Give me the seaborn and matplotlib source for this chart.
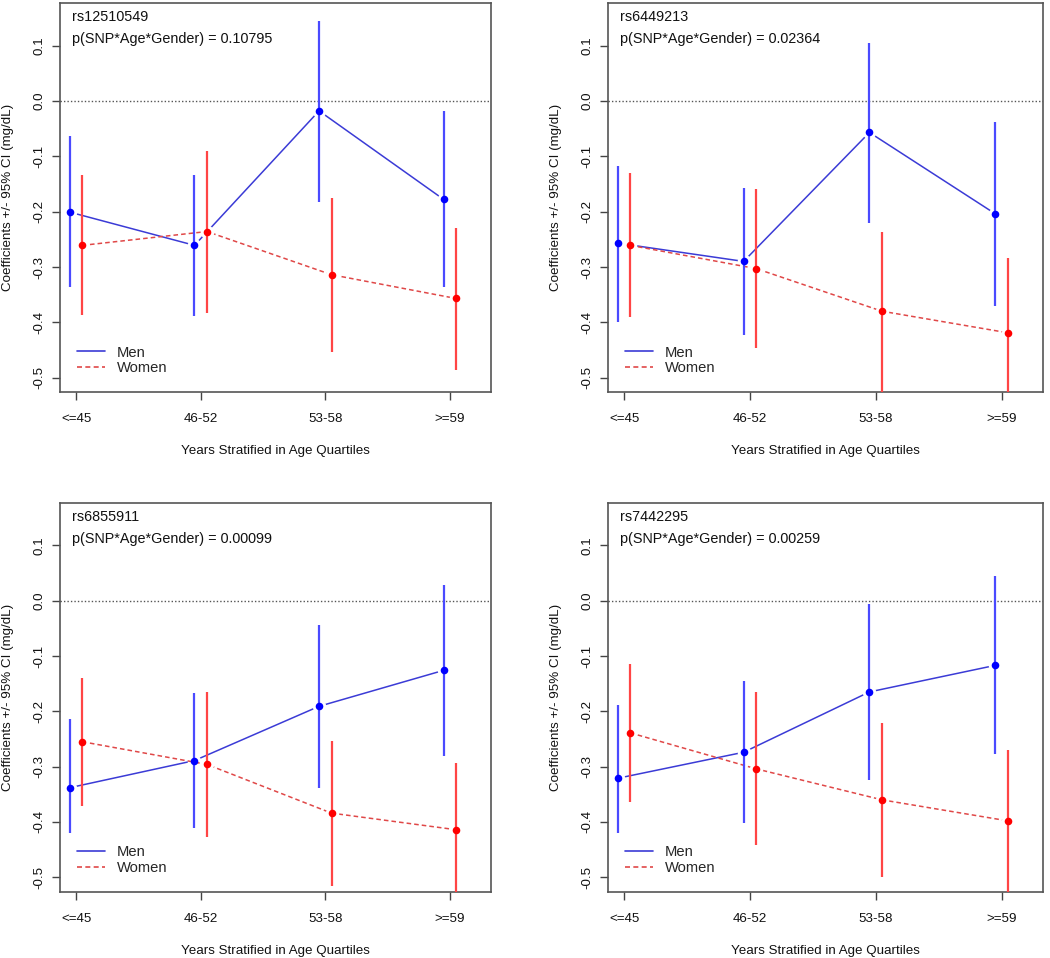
import numpy as np
import pandas as pd
import matplotlib
matplotlib.use("Agg")
import matplotlib.pyplot as plt
from matplotlib.lines import Line2D
import seaborn as sns

# age quartile categories
quartiles = ["<=45", "46-52", "53-58", ">=59"]

snps = ["rs12510549", "rs6449213", "rs6855911", "rs7442295"]
pvals = ["0.10795", "0.02364", "0.00099", "0.00259"]

# coefficients and 95% CI
men_est = [[-0.201, -0.261, -0.018, -0.178],
           [-0.257, -0.290, -0.057, -0.204],
           [-0.338, -0.289, -0.191, -0.126],
           [-0.321, -0.274, -0.165, -0.117]]
men_lo = [[-0.337, -0.389, -0.182, -0.337],
          [-0.399, -0.423, -0.220, -0.370],
          [-0.420, -0.411, -0.338, -0.281],
          [-0.420, -0.402, -0.325, -0.277]]
men_hi = [[-0.063, -0.133, 0.145, -0.019],
          [-0.117, -0.158, 0.105, -0.038],
          [-0.214, -0.167, -0.044, 0.028],
          [-0.188, -0.146, -0.006, 0.044]]

women_est = [[-0.261, -0.236, -0.314, -0.357],
             [-0.261, -0.303, -0.380, -0.419],
             [-0.255, -0.296, -0.384, -0.414],
             [-0.239, -0.304, -0.360, -0.398]]
women_lo = [[-0.387, -0.384, -0.453, -0.486],
            [-0.391, -0.447, -0.530, -0.554],
            [-0.372, -0.428, -0.515, -0.535],
            [-0.364, -0.441, -0.500, -0.530]]
women_hi = [[-0.134, -0.090, -0.175, -0.229],
            [-0.131, -0.159, -0.236, -0.284],
            [-0.139, -0.165, -0.253, -0.293],
            [-0.115, -0.166, -0.221, -0.270]]

sns.set_style("ticks")
plt.rcParams["font.family"] = ["Liberation Sans", "DejaVu Sans"]

line_col = {"Men": "#3b3bd6", "Women": "#e04848"}
ci_col = {"Men": "#4a4aff", "Women": "#ff4545"}
pt_col = {"Men": "#0000ff", "Women": "#ff0000"}
offset = {"Men": -0.05, "Women": 0.05}

fig = plt.figure(figsize=(10.5, 9.58), dpi=100)
positions = [(0.0571, 0.5908, 0.4105, 0.4061),
             (0.5788, 0.5908, 0.4146, 0.4061),
             (0.0571, 0.0692, 0.4105, 0.4061),
             (0.5788, 0.0692, 0.4146, 0.4061)]

for i in range(4):
    ax = fig.add_axes(positions[i])
    rows = []
    for sex, est, lo, hi in [("Men", men_est[i], men_lo[i], men_hi[i]),
                             ("Women", women_est[i], women_lo[i], women_hi[i])]:
        for j, q in enumerate(quartiles):
            rows.append({"sex": sex, "quartile": q, "pos": j + 1 + offset[sex],
                         "est": est[j], "lo": lo[j], "hi": hi[j]})
    df = pd.DataFrame(rows)

    ax.axhline(0, color="#555555", lw=1.0, ls=(0, (1, 1.5)), zorder=0.5)

    z = 1
    for sex in ["Men", "Women"]:
        d = df[df["sex"] == sex]
        sns.lineplot(data=d, x="pos", y="est", ax=ax, color=line_col[sex],
                     lw=1.1, linestyle="-" if sex == "Men" else (0, (3, 2)),
                     zorder=z, legend=False)
        # white halo gives the R type="b" gap around points
        sns.scatterplot(data=d, x="pos", y="est", ax=ax, color="white",
                        s=95, linewidth=0, zorder=z + 0.5, legend=False)
        z += 1
    for sex in ["Men", "Women"]:
        d = df[df["sex"] == sex]
        ax.vlines(d["pos"], d["lo"], d["hi"], color=ci_col[sex], lw=1.6, zorder=4)
        sns.scatterplot(data=d, x="pos", y="est", ax=ax, color=pt_col[sex],
                        s=30, linewidth=0, zorder=5, legend=False)

    ax.set_xlim(0.87, 4.33)
    ax.set_ylim(-0.526, 0.177)
    ax.set_xticks(range(1, 5))
    ax.set_xticklabels(quartiles, fontsize=9.6)
    ax.set_yticks([0.1, 0.0, -0.1, -0.2, -0.3, -0.4, -0.5])
    ax.set_yticklabels(["0.1", "0.0", "-0.1", "-0.2", "-0.3", "-0.4", "-0.5"],
                       fontsize=9.6, rotation=90, va="center")
    ax.tick_params(axis="x", direction="out", length=6, width=1, color="#444444",
                   pad=9, labelcolor="#111111", bottom=True)
    ax.tick_params(axis="y", direction="out", length=5.5, width=1, color="#444444",
                   pad=5, labelcolor="#111111", left=True)
    for sp in ax.spines.values():
        sp.set_visible(True)
        sp.set_color("#555555")
        sp.set_linewidth(1.2)

    ax.set_xlabel("Years Stratified in Age Quartiles", fontsize=9.6, color="#111111")
    ax.set_ylabel("Coefficients +/- 95% CI (mg/dL)", fontsize=9.6, color="#111111")
    ax.xaxis.set_label_coords(0.5, -0.152)
    ax.yaxis.set_label_coords(-0.12, 0.5)
    ax.xaxis.label.set_va("center")
    ax.yaxis.label.set_va("center")

    ax.text(0.028, 0.963, snps[i], transform=ax.transAxes, fontsize=10.4,
            va="center", ha="left", color="#111111")
    ax.text(0.028, 0.907, "p(SNP*Age*Gender) = " + pvals[i], transform=ax.transAxes,
            fontsize=10.4, va="center", ha="left", color="#111111")

    handles = [Line2D([], [], color=line_col["Men"], lw=1.2, ls="-"),
               Line2D([], [], color=line_col["Women"], lw=1.2, ls=(0, (3, 2)))]
    ax.legend(handles, ["Men", "Women"], loc="lower left", bbox_to_anchor=(0.019, 0.02),
              frameon=False, fontsize=10.6, handlelength=1.9, handletextpad=0.8,
              labelspacing=0.12, borderaxespad=0.2)

fig.savefig("out.png", dpi=100)
